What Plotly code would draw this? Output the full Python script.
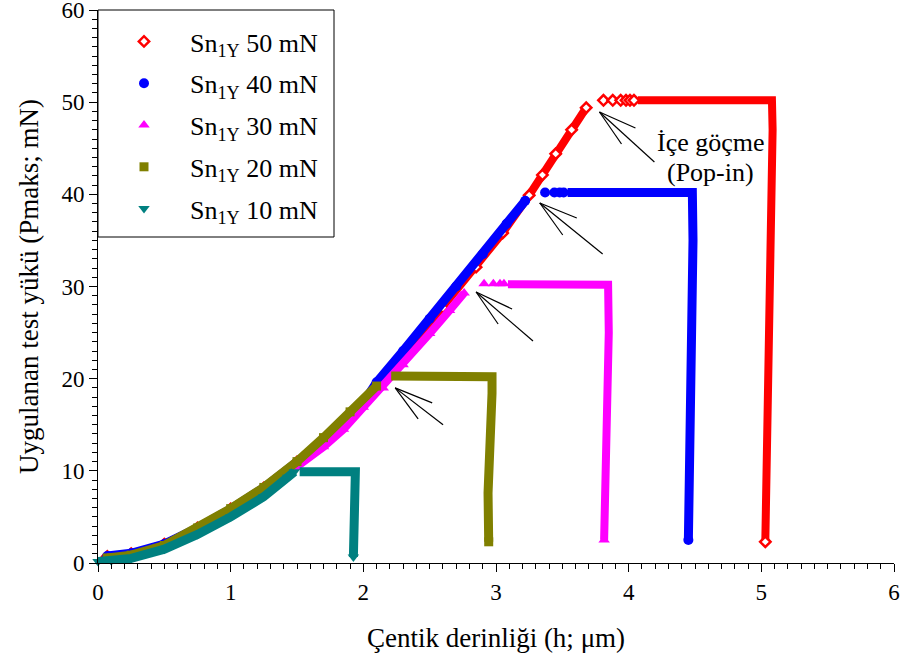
import plotly.graph_objects as go

# Nanoindentation load-depth curves for Sn1Y at five peak loads.
# Each curve: loading branch, pop-in jump (sparse points), hold at peak load, unloading.

# 50 mN
red_load_h = [0.07, 0.25, 0.5, 0.75, 1.0, 1.25, 1.5, 1.75, 2.0, 2.3, 2.6, 2.85, 3.05, 3.25, 3.35, 3.45, 3.57, 3.68]
red_load_p = [0.7, 1.0, 2.05, 3.8, 5.85, 8.15, 10.95, 13.7, 17.2, 22.5, 27.7, 32.1, 35.8, 39.9, 42.1, 44.4, 47.0, 49.4]
red_pop_h = [3.81, 3.88, 3.94, 3.98, 4.01, 4.04]
red_pop_p = [50.2, 50.2, 50.2, 50.2, 50.2, 50.2]
red_hold_h = [4.07, 4.5, 5.0, 5.08, 5.085, 5.075, 5.065, 5.055, 5.05, 5.04, 5.035, 5.03]
red_hold_p = [50.2, 50.25, 50.2, 50.2, 47.0, 40.0, 30.0, 20.0, 15.0, 8.0, 5.0, 2.3]

# 40 mN
blue_load_h = [0.07, 0.25, 0.5, 0.75, 1.0, 1.25, 1.5, 1.75, 2.0, 2.1, 2.3, 2.5, 2.7, 2.9, 3.08, 3.22]
blue_load_p = [0.75, 1.05, 2.05, 3.8, 5.85, 8.15, 10.95, 13.75, 17.4, 19.6, 23.0, 26.5, 30.0, 33.5, 36.8, 39.3]
blue_pop_h = [3.37, 3.44, 3.48, 3.51]
blue_pop_p = [40.2, 40.2, 40.2, 40.2]
blue_hold_h = [3.54, 4.0, 4.48, 4.485, 4.48, 4.47, 4.455, 4.455, 4.45, 4.45]
blue_hold_p = [40.2, 40.2, 40.2, 35.0, 30.0, 20.0, 13.3, 9.0, 5.0, 2.5]

# 30 mN
pink_load_h = [0.07, 0.25, 0.5, 0.75, 1.0, 1.25, 1.5, 1.7, 1.85, 2.0, 2.15, 2.3, 2.5, 2.65, 2.76]
pink_load_p = [0.5, 0.8, 1.8, 3.6, 5.6, 7.8, 10.4, 12.6, 14.5, 16.9, 19.0, 21.5, 24.9, 27.4, 29.3]
pink_pop_h = [2.91, 2.98, 3.03, 3.06]
pink_pop_p = [30.3, 30.3, 30.3, 30.3]
pink_hold_h = [3.09, 3.5, 3.845, 3.85, 3.845, 3.83, 3.82, 3.815, 3.815]
pink_hold_p = [30.25, 30.25, 30.2, 25.0, 20.0, 15.0, 10.0, 5.0, 2.5]

# 20 mN
olive_load_h = [0.07, 0.25, 0.5, 0.75, 1.0, 1.25, 1.5, 1.7, 1.9, 2.1]
olive_load_p = [0.55, 0.85, 1.9, 3.8, 5.9, 8.2, 11.0, 13.6, 16.4, 19.2]
olive_pop_h = []
olive_pop_p = []
olive_hold_h = [2.21, 2.6, 2.97, 2.97, 2.96, 2.95, 2.94, 2.945]
olive_hold_p = [20.3, 20.25, 20.2, 18.4, 15.0, 11.2, 7.6, 2.3]

# 10 mN
teal_load_h = [0.0, 0.1, 0.25, 0.5, 0.75, 1.0, 1.25, 1.43, 1.48]
teal_load_p = [0.15, 0.25, 0.5, 1.5, 3.1, 5.0, 7.2, 9.3, 9.9]
teal_pop_h = []
teal_pop_p = []
teal_hold_h = [1.52, 1.6, 1.7, 1.8, 1.94, 1.94, 1.935, 1.93, 1.925]
teal_hold_p = [9.9, 9.95, 9.9, 9.9, 9.9, 7.0, 4.0, 2.0, 0.65]

labels = ["Sn<sub>1Y</sub> 50 mN", "Sn<sub>1Y</sub> 40 mN", "Sn<sub>1Y</sub> 30 mN",
          "Sn<sub>1Y</sub> 20 mN", "Sn<sub>1Y</sub> 10 mN"]

series = [
    (red_load_h, red_load_p, red_pop_h, red_pop_p, red_hold_h, red_hold_p),
    (blue_load_h, blue_load_p, blue_pop_h, blue_pop_p, blue_hold_h, blue_hold_p),
    (pink_load_h, pink_load_p, pink_pop_h, pink_pop_p, pink_hold_h, pink_hold_p),
    (olive_load_h, olive_load_p, olive_pop_h, olive_pop_p, olive_hold_h, olive_hold_p),
    (teal_load_h, teal_load_p, teal_pop_h, teal_pop_p, teal_hold_h, teal_hold_p),
]

styles = [
    dict(color="#FF0000", symbol="diamond", fill="#FFFFFF", size=8, lw=8, mlw=2.5),
    dict(color="#0000FF", symbol="circle", fill="#0000FF", size=10, lw=9, mlw=0),
    dict(color="#FF00FF", symbol="triangle-up", fill="#FF00FF", size=10, lw=8, mlw=0),
    dict(color="#808000", symbol="square", fill="#808000", size=9, lw=9, mlw=0),
    dict(color="#008080", symbol="triangle-down", fill="#008080", size=10, lw=9, mlw=0),
]

FONT = "Liberation Serif, Times New Roman, serif"

fig = go.Figure()
for (lh, lp, ph, pp, hh, hp), st, name in zip(series, styles, labels):
    # continuous band: loading, break at the pop-in, then hold and unloading
    fig.add_trace(go.Scatter(
        x=lh + [None] + hh, y=lp + [None] + hp, mode="lines",
        line=dict(color=st["color"], width=st["lw"]),
        legendgroup=name, showlegend=False, hoverinfo="skip", cliponaxis=False,
    ))
    # measurement markers: loading branch, isolated pop-in points and final unload point
    fig.add_trace(go.Scatter(
        x=lh + [None] + ph + [None] + hh[-1:], y=lp + [None] + pp + [None] + hp[-1:],
        mode="markers", name=name, legendgroup=name,
        marker=dict(symbol=st["symbol"], size=st["size"], color=st["fill"],
                    line=dict(color=st["color"], width=st["mlw"])),
        cliponaxis=False,
    ))

# pop-in pointer fans: tip of each fan and the three line offsets (data units)
fan_tips = [(3.78, 48.93), (3.33, 39.06), (2.85, 29.4), (2.24, 19.0)]
fan_offsets = [
    [(0.271, -1.74), (0.166, -3.47), (0.414, -5.42)],
    [(0.279, -1.63), (0.173, -3.47), (0.474, -5.53)],
    [(0.271, -1.84), (0.166, -3.47), (0.429, -5.32)],
    [(0.279, -1.63), (0.173, -3.36), (0.361, -4.01)],
]
for (tx, ty), offs in zip(fan_tips, fan_offsets):
    for dx, dy in offs:
        fig.add_shape(type="line", xref="x", yref="y",
                      x0=tx, y0=ty, x1=tx + dx, y1=ty + dy,
                      line=dict(color="black", width=1.2))

# legend frame
fig.add_shape(type="rect", xref="paper", yref="paper",
              x0=0, x1=0.2965, y0=0.5895, y1=1.0,
              line=dict(color="black", width=1), fillcolor="white", layer="above")

fig.add_annotation(x=4.62, y=45.6, xref="x", yref="y", text="İçe göçme",
                   showarrow=False, font=dict(family=FONT, size=26, color="black"))
fig.add_annotation(x=4.62, y=42.4, xref="x", yref="y", text="(Pop-in)",
                   showarrow=False, font=dict(family=FONT, size=26, color="black"))

axis_common = dict(
    showline=True, linecolor="black", linewidth=1, mirror=False,
    showgrid=False, zeroline=False, automargin=False,
    ticks="outside", ticklen=8, tickwidth=1, tickcolor="black",
    ticklabeloverflow="allow",
    tickfont=dict(family=FONT, size=23, color="black"),
)

fig.update_layout(
    width=904, height=669,
    margin=dict(l=98, r=10, t=10, b=106),
    paper_bgcolor="white", plot_bgcolor="white",
    font=dict(family=FONT, color="black"),
    xaxis=dict(range=[0, 6], dtick=1, tick0=0,
               minor=dict(dtick=0.1, ticks="outside", ticklen=5, tickcolor="black", showgrid=False),
               title=dict(text="Çentik derinliği (h; μm)", font=dict(family=FONT, size=27), standoff=24),
               **axis_common),
    yaxis=dict(range=[0, 60], dtick=10, tick0=0,
               minor=dict(dtick=1, ticks="outside", ticklen=5, tickcolor="black", showgrid=False),
               title=dict(text="Uygulanan test yükü (Pmaks; mN)", font=dict(family=FONT, size=27), standoff=14),
               **axis_common),
    legend=dict(x=0, y=1 - 8 / 553, xanchor="left", yanchor="top",
                bgcolor="rgba(0,0,0,0)", borderwidth=0,
                font=dict(family=FONT, size=26, color="black"),
                itemwidth=82, tracegroupgap=5),
    showlegend=True,
)

fig.write_html("out.html")
